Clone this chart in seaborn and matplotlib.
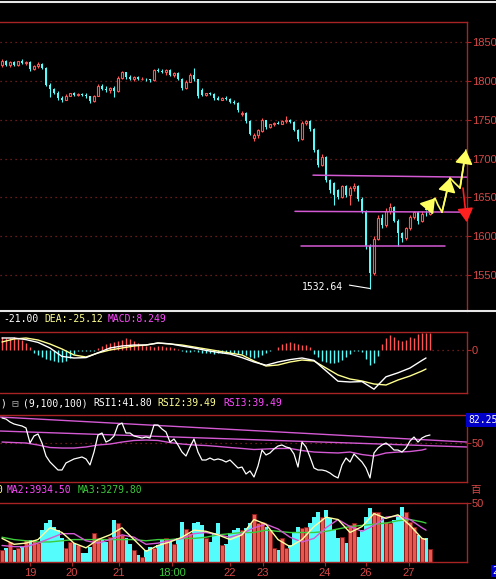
import numpy as np
import pandas as pd
import matplotlib
matplotlib.use("Agg")
import matplotlib.pyplot as plt
import seaborn as sns
from matplotlib.lines import Line2D

# ---------------- candles (one per bar) ----------------
opens = [1820, 1826, 1821, 1824, 1820, 1825, 1823, 1824, 1815, 1819,
         1822, 1817, 1795, 1789, 1785, 1778, 1776, 1781, 1784, 1782,
         1783, 1782, 1780, 1774, 1781, 1794, 1790, 1788, 1791, 1787,
         1804, 1811, 1805, 1803, 1805, 1802, 1803, 1802, 1801, 1814,
         1813, 1812, 1814, 1808, 1810, 1803, 1791, 1799, 1808, 1802,
         1788, 1782, 1784, 1783, 1778, 1776, 1778, 1777, 1773, 1772,
         1757, 1759, 1748, 1727, 1730, 1736, 1749, 1740, 1744, 1746,
         1745, 1748, 1750, 1747, 1737, 1725, 1746, 1748, 1738, 1711,
         1692, 1702, 1672, 1668, 1659, 1650, 1664, 1653, 1662, 1665,
         1648, 1633, 1587, 1552, 1597, 1624, 1614, 1632, 1638, 1620,
         1604, 1598, 1610, 1625, 1631, 1620, 1629, 1628]
highs = [1828, 1827, 1825, 1826, 1826, 1828, 1825, 1826, 1821, 1824,
         1823, 1818, 1797, 1791, 1787, 1781, 1783, 1785, 1786, 1784,
         1785, 1784, 1781, 1782, 1796, 1796, 1793, 1792, 1793, 1806,
         1813, 1812, 1807, 1806, 1806, 1805, 1804, 1803, 1815, 1817,
         1815, 1815, 1815, 1811, 1811, 1804, 1801, 1810, 1816, 1803,
         1791, 1785, 1786, 1784, 1780, 1779, 1780, 1778, 1775, 1773,
         1761, 1760, 1749, 1733, 1738, 1752, 1750, 1745, 1747, 1748,
         1749, 1755, 1751, 1748, 1738, 1748, 1750, 1749, 1739, 1712,
         1706, 1703, 1674, 1670, 1661, 1666, 1666, 1665, 1668, 1666,
         1650, 1634, 1590, 1600, 1627, 1628, 1636, 1643, 1639, 1622,
         1606, 1612, 1627, 1633, 1633, 1632, 1634, 1640]
lows = [1818, 1819, 1818, 1819, 1819, 1822, 1820, 1813, 1814, 1817,
        1815, 1793, 1779, 1783, 1776, 1773, 1775, 1780, 1780, 1780,
        1781, 1778, 1772, 1773, 1780, 1788, 1786, 1785, 1779, 1786,
        1803, 1803, 1801, 1800, 1801, 1801, 1800, 1799, 1800, 1811,
        1810, 1808, 1806, 1805, 1801, 1788, 1790, 1798, 1800, 1778,
        1780, 1781, 1782, 1776, 1775, 1775, 1776, 1771, 1770, 1760,
        1755, 1746, 1730, 1722, 1727, 1734, 1738, 1739, 1742, 1744,
        1744, 1746, 1746, 1735, 1722, 1724, 1743, 1735, 1709, 1689,
        1690, 1670, 1656, 1640, 1648, 1649, 1651, 1640, 1658, 1645,
        1630, 1584, 1532.64, 1550, 1595, 1610, 1612, 1628, 1618, 1588,
        1592, 1595, 1608, 1622, 1616, 1618, 1626, 1627]
closes = [1826, 1821, 1824, 1820, 1825, 1823, 1824, 1815, 1819, 1822,
          1817, 1795, 1789, 1785, 1778, 1776, 1781, 1784, 1782, 1783,
          1782, 1780, 1774, 1781, 1794, 1790, 1788, 1791, 1787, 1804,
          1811, 1805, 1803, 1805, 1802, 1803, 1802, 1801, 1814, 1813,
          1812, 1814, 1808, 1810, 1803, 1791, 1799, 1808, 1802, 1780,
          1782, 1784, 1783, 1778, 1776, 1778, 1777, 1773, 1772, 1762,
          1759, 1748, 1732, 1730, 1737, 1749, 1740, 1744, 1746, 1745,
          1748, 1750, 1747, 1737, 1725, 1746, 1748, 1738, 1711, 1692,
          1702, 1672, 1659, 1653, 1650, 1664, 1653, 1662, 1665, 1648,
          1633, 1587, 1552, 1597, 1624, 1614, 1632, 1638, 1620, 1604,
          1598, 1610, 1625, 1631, 1620, 1629, 1628, 1637]
volumes = [10, 12, 17, 10, 12, 13, 19, 19, 19, 16,
           27, 33, 36, 30, 27, 20, 12, 17, 16, 14,
           8, 8, 13, 25, 20, 19, 17, 21, 36, 33,
           23, 20, 15, 10, 6, 4, 10, 13, 12, 14,
           19, 20, 17, 15, 20, 34, 28, 25, 33, 34,
           31, 20, 17, 25, 33, 14, 15, 25, 27, 29,
           27, 29, 33, 41, 33, 34, 30, 27, 12, 10,
           20, 12, 14, 25, 30, 29, 30, 33, 38, 42,
           38, 44, 37, 27, 20, 21, 16, 31, 33, 21,
           27, 38, 46, 42, 42, 38, 34, 33, 36, 40,
           47, 42, 34, 30, 23, 20, 20, 11]
macd_hist = [32.5, 30, 30, 32.5, 27.5, 25, 17.5, 7.5,
             -7.5, -12.5, -17.5, -22.5, -25, -27.5, -30, -30, -27.5, -20, -10,
             -2.5, -2.5, -2.5, -2.5, -2.5,
             5, 10, 15, 17.5, 20, 22.5, 25, 30, 27.5, 22.5, 17.5,
             12.5, 10, 10, 7.5, 10, 10, 7.5, 7.5, 5, 2.5,
             -2.5, -5, -5, -2.5, -5, -7.5, -7.5, -7.5, -10, -7.5, -7.5, -5, -7.5, -7.5,
             -10, -10, -12.5, -17.5,
             -20, -17.5, -12.5, -7.5, -2.5, -1,
             7.5, 15, 17.5, 20, 17.5, 15, 12.5, 12.5, 7.5,
             -10, -17.5, -27.5, -30, -32.5, -32.5, -30, -25, -17.5, -10, -2.5, -2.5,
             -5, -22.5, -37.5, -32.5, -15,
             15, 30, 37.5, 32.5, 25, 22.5, 25, 32.5, 30, 40, 42.5, 42.5, 42.5]
rsi1 = [78.8, 77.6, 74.2, 71.9, 70.7, 69.6, 67.3, 50, 58.1, 60.4,
        50, 35, 28.1, 23.5, 18.9, 18.9, 27, 29.3, 31.6, 32.7,
        33.9, 31.6, 24.7, 39.6, 59.2, 61.5, 51.1, 53.4, 58.1, 70.7,
        73, 61.5, 61.5, 58.1, 56.9, 55.8, 56.9, 55.8, 70.7, 70.7,
        66.1, 62.7, 51.1, 54.6, 47.7, 39.6, 35, 45.4, 54.6, 39.6,
        30.4, 30.4, 32.7, 30.4, 31.6, 30.4, 28.1, 30.4, 25.8, 21.2,
        22.3, 14.3, 17.8, 10.8, 23.5, 41.9, 36.2, 38.5, 43.1, 46.5,
        47.7, 45.4, 44.2, 37.3, 22.3, 51.1, 45.4, 33.9, 21.2, 18.9,
        18.9, 17.8, 15.4, 12, 9.7, 24.7, 32.7, 28.1, 37.3, 32.7,
        28.1, 21.2, 9.7, 38.5, 44.2, 47.7, 50, 46.5, 41.9, 41.9,
        39.6, 44.2, 52.3, 56.9, 51.1, 55.8, 58.1, 59.2]

# smooth indicator lines, read every 3rd bar
line_idx = list(range(0, 106, 3)) + [106]
dif = [30, 30, 26, 19, 5, -16, -20, -19, -7, 5, 10, 12.5, 12.5, 17.5, 15.5, 10, 5, -1, -6,
       -10, -19, -30, -38, -30, -24, -20, -26, -52, -78, -80, -79, -98, -67, -57, -45, -26, -20]
dea = [20, 27.5, 30, 25, 15, 2.5, -12.5, -17.5, -7.5, 0, 5, 10, 12.5, 17.5, 15, 12.5, 7.5, 2.5,
       -2.5, -7.5, -12.5, -27.5, -40, -37.5, -30, -25, -27.5, -45, -62.5, -72.5, -77.5, -85,
       -87.5, -75, -65, -52.5, -47.5]
rsi3 = [51.1, 50.5, 50, 47.7, 44.8, 44.2, 44.2, 45.4, 47.7, 48.8, 51.1, 52.9, 53.4, 52.9, 50.5,
        48.8, 47.7, 47.1, 46, 44.8, 43.7, 42.5, 43.1, 43.7, 43.7, 41.3, 39.6, 39, 38.5, 39.6,
        36.7, 35, 38.5, 39.6, 40.2, 41.9, 43.1]
vol_ma1 = [20, 15, 16, 19, 29, 25, 16, 12, 19, 23, 29, 19, 9, 14, 17, 21, 27, 26, 23, 19, 23,
           36, 32, 19, 13, 19, 30, 38, 36, 25, 30, 41, 37, 40, 31, 20, 19]
vol_ma2 = [14, 13, 13, 16, 20, 24, 24, 18, 16, 19, 23, 21, 15, 16, 18, 20, 24, 25, 23, 21, 24,
           29, 32, 28, 21, 17, 20, 29, 36, 30, 26, 31, 38, 39, 36, 29, 27]
vol_ma3 = [21, 19, 18, 17, 17, 18, 19, 19, 19, 19, 19, 19, 18, 19, 19, 20, 20, 21, 23, 24, 25,
           25, 27, 26, 25, 25, 25, 26, 28, 30, 31, 32, 33, 35, 36, 34, 33]

# hand-drawn objects on the chart
level_x0 = [77.75, 73.25, 74.75]
level_x1 = [116.25, 116.25, 110.75]
level_y0 = [1678.6, 1632, 1587]
level_y1 = [1676, 1631, 1587]
rsi_trend_x = [-0.5, 116.25]
rsi_trend_a = [79.9, 51.1]
rsi_trend_b = [63.8, 45.4]
proj_x = [106, 108.25, 109, 110, 112, 113, 114.5, 116]
proj_y = [1634.7, 1649, 1640, 1631, 1675, 1669.5, 1662, 1711]
drop_x = [115.25, 116.2]
drop_y = [1662, 1618]

price_ticks = [1550, 1600, 1650, 1700, 1750, 1800, 1850]
day_ticks = [7, 17.5, 29.25, 42.5, 57, 65.25, 80.75, 91, 101.75]
day_labels = ["19", "20", "21", "18:00", "22", "23", "24", "26", "27"]

# ---------------- style ----------------
BORDER = "#a82424"
LABEL = "#d84848"
GRID = "#8a2222"
CYAN = "#54fcfc"
RED = "#ff5454"
MAG = "#d45ad4"
YEL = "#ffff60"
GREEN = "#3ccc3c"
MONO = ["DejaVu Sans Mono", "DejaVu Sans"]

sns.set_theme(style="dark", rc={"figure.facecolor": "black", "axes.facecolor": "black",
                                "axes.grid": False, "axes.edgecolor": BORDER})
plt.rcParams["font.family"] = ["Liberation Sans", "Noto Sans CJK SC", "DejaVu Sans"]

W, H, RIGHT = 496, 579, 467
XLIM = (-0.5, 116.25)
fig = plt.figure(figsize=(W / 100, H / 100), dpi=100)


def panel(top, bottom):
    ax = fig.add_axes([0, 1 - bottom / H, RIGHT / W, (bottom - top) / H])
    ax.set_facecolor("black")
    for s in ("top", "right", "bottom"):
        ax.spines[s].set_color(BORDER)
        ax.spines[s].set_linewidth(1)
    ax.spines["left"].set_visible(False)
    ax.set_xlim(*XLIM)
    ax.yaxis.tick_right()
    ax.tick_params(axis="y", left=False, right=True, colors=BORDER, labelcolor=LABEL,
                   length=3, width=0.8, pad=0.5, labelsize=8)
    ax.tick_params(axis="x", bottom=False, labelbottom=False)
    return ax


def header(x, y, s, color, size=7):
    fig.text(x / W, 1 - y / H, s, color=color, fontsize=size, family=MONO,
             ha="left", va="center")


bars = pd.DataFrame({"o": opens, "h": highs, "l": lows, "c": closes, "v": volumes})
bars["i"] = np.arange(len(bars))
bars["up"] = bars.c >= bars.o
up = bars[bars.up]
dn = bars[~bars.up]

# ---------------- price panel ----------------
ax_p = panel(22, 311)
ax_p.spines["bottom"].set_visible(False)
ax_p.set_ylim(1503.7, 1875.8)
ax_p.set_yticks(price_ticks)
ax_p.grid(axis="y", color=GRID, linestyle=(0, (1, 3)), linewidth=0.9)
ax_p.set_axisbelow(True)

ax_p.vlines(dn.i, dn.l, dn.h, color=CYAN, lw=0.8)
ax_p.bar(dn.i, (dn.o - dn.c).clip(lower=0.8), bottom=dn.c, width=0.7, color=CYAN, lw=0)
ax_p.vlines(up.i, up.c, up.h, color=RED, lw=0.8)
ax_p.vlines(up.i, up.l, up.o, color=RED, lw=0.8)
ax_p.bar(up.i, (up.c - up.o).clip(lower=0.8), bottom=up.o, width=0.7,
         facecolor="black", edgecolor=RED, lw=0.8)

for x0, x1, y0, y1 in zip(level_x0, level_x1, level_y0, level_y1):
    sns.lineplot(x=[x0, x1], y=[y0, y1], ax=ax_p, color=MAG, lw=1.1, legend=False)

i_min = int(np.argmin(lows))
ax_p.annotate(f"{lows[i_min]:.2f}", xy=(i_min, lows[i_min]), xytext=(-34, 1),
              textcoords="offset points", color="white", fontsize=7, family=MONO,
              ha="center", va="center",
              arrowprops=dict(arrowstyle="-", color="white", lw=0.8,
                              relpos=(1.0, 0.8), shrinkA=2, shrinkB=0))

sns.lineplot(x=proj_x, y=proj_y, ax=ax_p, sort=False, color=YEL, lw=1.2, legend=False)
for k in (1, 4, 7):
    ax_p.annotate("", xy=(proj_x[k], proj_y[k]), xytext=(proj_x[k - 1], proj_y[k - 1]),
                  annotation_clip=False,
                  arrowprops=dict(arrowstyle="-|>,head_length=0.7,head_width=0.45",
                                  color=YEL, lw=1.2, shrinkA=0, shrinkB=0))
ax_p.annotate("", xy=(drop_x[1], drop_y[1]), xytext=(drop_x[0], drop_y[0]),
              annotation_clip=False,
              arrowprops=dict(arrowstyle="-|>,head_length=0.7,head_width=0.4",
                              color="#ff2020", lw=1.2, shrinkA=0, shrinkB=0))

# ---------------- MACD panel ----------------
ax_m = panel(332, 393)
ax_m.set_ylim(-107.5, 45)
ax_m.set_yticks([0])
hist = np.array(macd_hist)
ax_m.vlines(bars.i, 0, hist, colors=np.where(hist > 0, RED, CYAN), lw=1)
ax_m.axhline(0, xmin=(len(bars) - 0.5 - XLIM[0]) / (XLIM[1] - XLIM[0]), xmax=1,
             color=GRID, linestyle=(0, (1, 3)), lw=0.9)
sns.lineplot(x=line_idx, y=dea, ax=ax_m, color="#ffff90", lw=1, legend=False)
sns.lineplot(x=line_idx, y=dif, ax=ax_m, color="white", lw=1, legend=False)

# ---------------- RSI panel ----------------
ax_r = panel(415, 482)
ax_r.set_ylim(5.07, 82.25)
ax_r.set_yticks([50])
ax_r.axhline(50, color=GRID, linestyle=(0, (1, 3)), lw=0.9)
sns.lineplot(x=rsi_trend_x, y=rsi_trend_a, ax=ax_r, color=MAG, lw=1, legend=False)
sns.lineplot(x=rsi_trend_x, y=rsi_trend_b, ax=ax_r, color=MAG, lw=1, legend=False)
sns.lineplot(x=line_idx, y=rsi3, ax=ax_r, color=MAG, lw=1, legend=False)
sns.lineplot(x=bars.i, y=rsi1, ax=ax_r, color="white", lw=0.9, legend=False)
ax_r.text(1.002, 82.25, "82.25", transform=ax_r.get_yaxis_transform(), color="white",
          fontsize=7, family=MONO, ha="left", va="top",
          bbox=dict(facecolor="#0000c8", edgecolor="none", pad=1.2), clip_on=False)

# ---------------- volume panel ----------------
ax_v = panel(503, 562)
ax_v.set_ylim(0, 50)
ax_v.set_yticks([50])
ax_v.bar(dn.i, dn.v, width=0.8, color=CYAN, lw=0)
ax_v.bar(up.i, up.v, width=0.8, facecolor="#e8584f", edgecolor="#8b1a1a", lw=0.6)
sns.lineplot(x=line_idx, y=vol_ma3, ax=ax_v, color=GREEN, lw=1, legend=False)
sns.lineplot(x=line_idx, y=vol_ma2, ax=ax_v, color=MAG, lw=1, legend=False)
sns.lineplot(x=line_idx, y=vol_ma1, ax=ax_v, color="#ffffa0", lw=1, legend=False)
ax_v.annotate("百", xy=(1.0, 1.0), xycoords="axes fraction", xytext=(2.5, 9.5),
              textcoords="offset points", color=LABEL, fontsize=7.5,
              family=["Noto Sans CJK SC"], ha="left", va="center", annotation_clip=False)
ax_v.set_xticks(day_ticks)
ax_v.set_xticklabels(day_labels)
ax_v.tick_params(axis="x", bottom=True, labelbottom=True, colors=BORDER, length=3,
                 width=0.8, pad=1.5, labelsize=8)
for lbl, txt in zip(ax_v.get_xticklabels(), day_labels):
    lbl.set_color(GREEN if ":" in txt else LABEL)

# ---------------- frame lines and headers ----------------
for y in (2, 311):
    fig.add_artist(Line2D([0, 1], [1 - y / H, 1 - y / H], transform=fig.transFigure,
                          color="#e6e6e6", lw=1.5))

header(3, 319, "-21.00", "white")
header(44, 319, "DEA:-25.12", "#ffff90")
header(108, 319, "MACD:8.249", "#ff48ff")

header(0, 403, ")", "white")
header(12, 403, "\u229f", "#a0a0a0", size=8)
header(23, 403, "(9,100,100)", "white")
header(93, 403, "RSI1:41.80", "white")
header(157, 403, "RSI2:39.49", "#ffff90")
header(223, 403, "RSI3:39.49", "#ff48ff")

header(-4, 490, "0", "#ffffa0")
header(7, 490, "MA2:3934.50", "#ff48ff")
header(78, 490, "MA3:3279.80", GREEN)

fig.text(492 / W, 1 - 571 / H, "2", color="white", fontsize=7, family=MONO,
         ha="left", va="center",
         bbox=dict(facecolor="#0000c8", edgecolor="none", pad=1))

fig.savefig("out.png", dpi=100, facecolor="black")
plt.close(fig)
